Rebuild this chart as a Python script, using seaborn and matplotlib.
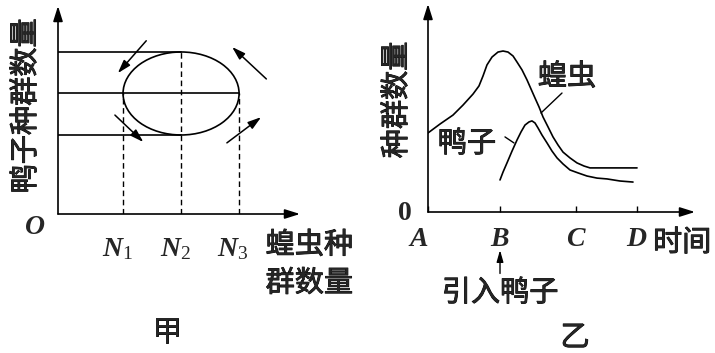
import matplotlib
matplotlib.use("Agg")
import matplotlib.pyplot as plt
import matplotlib.patheffects as pe
import numpy as np
import pandas as pd
import seaborn as sns
from matplotlib.patches import Ellipse
from matplotlib.transforms import ScaledTranslation

# ---------------- panel 甲 data ----------------
locust_levels = [1.0, 2.0, 3.0]                 # N1, N2, N3
locust_tick_labels = ["$N_1$", "$N_2$", "$N_3$"]
duck_levels = [2.0, 3.0, 4.0]                   # duck population: low, mid, high
cycle_arrows = [                                # (x_from, y_from, x_to, y_to)
    (1.40, 4.27, 0.91, 3.49),
    (0.86, 2.48, 1.35, 1.83),
    (2.79, 1.81, 3.38, 2.43),
    (3.47, 3.35, 2.88, 4.12),
]

# ---------------- panel 乙 data ----------------
time_ticks = [0.0, 1.0, 2.06, 2.9]
time_labels = ["$A$", "$B$", "$C$", "$D$"]
locust_t = [0.00, 0.167, 0.347, 0.486, 0.625, 0.708, 0.764, 0.819, 0.889, 0.972,
            1.042, 1.111, 1.181, 1.236, 1.306, 1.375, 1.431, 1.486, 1.542, 1.597,
            1.667, 1.736, 1.806, 1.875, 1.972, 2.069, 2.167, 2.25, 2.486, 2.903]
locust_n = [3.80, 4.23, 4.66, 5.14, 5.67, 6.06, 6.54, 7.07, 7.45, 7.69,
            7.74, 7.69, 7.50, 7.21, 6.83, 6.35, 5.91, 5.48, 5.05, 4.57,
            4.09, 3.61, 3.22, 2.88, 2.60, 2.36, 2.21, 2.12, 2.12, 2.12]
duck_t = [1.0, 1.042, 1.097, 1.167, 1.236, 1.292, 1.347, 1.403, 1.444, 1.486,
          1.528, 1.583, 1.653, 1.722, 1.792, 1.875, 1.972, 2.083, 2.208, 2.347,
          2.486, 2.667, 2.847]
duck_n = [1.54, 1.92, 2.36, 2.93, 3.46, 3.85, 4.18, 4.33, 4.38, 4.28,
          4.04, 3.70, 3.32, 2.93, 2.60, 2.31, 2.02, 1.88, 1.73, 1.63,
          1.59, 1.49, 1.44]

sns.set_style("white")
plt.rcParams['font.family'] = ['Noto Sans CJK SC', 'DejaVu Sans']
plt.rcParams['mathtext.fontset'] = 'custom'
plt.rcParams['mathtext.it'] = 'Liberation Serif:italic:bold'
plt.rcParams['mathtext.rm'] = 'Liberation Serif'
plt.rcParams['mathtext.bf'] = 'Liberation Serif:bold'

LW = 1.2
CJK = 21
LAT = 20
THICK = [pe.withStroke(linewidth=0.6, foreground='black')]

fig = plt.figure(figsize=(7.15, 3.53), dpi=100)
W, H = 715, 353

def rect(l, t, r, b):
    return [l / W, 1 - b / H, (r - l) / W, (b - t) / H]

def cjk(obj, *args, **kw):
    return obj.text(*args, fontsize=CJK, path_effects=THICK, **kw)

def axis_arrows(ax):
    for s in ax.spines.values():
        s.set_visible(False)
    style = dict(arrowstyle='-|>,head_length=0.7,head_width=0.22', lw=LW,
                 color='black', mutation_scale=13, shrinkA=0, shrinkB=0)
    ax.annotate("", xy=(1, 0), xytext=(0, 0), xycoords='axes fraction',
                textcoords='axes fraction', arrowprops=style)
    ax.annotate("", xy=(0, 1), xytext=(0, 0), xycoords='axes fraction',
                textcoords='axes fraction', arrowprops=style)

# ================= panel 甲 =================
ax1 = fig.add_axes(rect(58, 6, 300, 214))
ax1.set_facecolor('none')
x0, x1 = -0.121, 4.05
y0, y1 = 0.096, 5.108
ax1.set_xlim(x0, x1)
ax1.set_ylim(y0, y1)
axis_arrows(ax1)

N1, N2, N3 = locust_levels
P1, P2, P3 = duck_levels
# horizontal guide lines
for yv, xe in [(P3, N2), (P2, N3), (P1, N2)]:
    df = pd.DataFrame({"x": [x0, xe], "y": [yv, yv]})
    sns.lineplot(data=df, x="x", y="y", ax=ax1, color='black', lw=LW,
                 sort=False, estimator=None)
# dashed verticals
for xv, ye in [(N1, P2), (N2, P3), (N3, P2)]:
    ax1.vlines(xv, y0, ye, colors='black', lw=1.0, linestyles=(0, (4, 2.6)))
ax1.add_patch(Ellipse((N2, P2), N3 - N1, P3 - P1, fill=False, ec='black', lw=LW))
for xa, ya, xb, yb in cycle_arrows:
    ax1.annotate("", xy=(xb, yb), xytext=(xa, ya),
                 arrowprops=dict(arrowstyle='-|>,head_length=0.8,head_width=0.25',
                                 lw=1.1, color='black', mutation_scale=10,
                                 shrinkA=0, shrinkB=0))
ax1.set_xticks(locust_levels, labels=locust_tick_labels)
ax1.tick_params(axis='x', length=0, pad=14, labelsize=LAT)
ax1.set_yticks([])
for lab in ax1.get_xticklabels():
    lab.set_transform(lab.get_transform() + ScaledTranslation(-6 / 100, 0, fig.dpi_scale_trans))
ax1.set_xlabel("")
ax1.set_ylabel("")
ax1.text(-0.517, -0.22, "O", fontsize=LAT, family='Liberation Serif', style='italic',
         weight='bold', ha='center', va='center', clip_on=False)
cjk(ax1, 4.21, -0.66, "蝗虫种", ha='center', va='center', clip_on=False)
cjk(ax1, 4.21, -1.58, "群数量", ha='center', va='center', clip_on=False)

cjk(fig, 26 / W, 1 - 106 / H, "鸭子种群数量", rotation=90, ha='center', va='center')
cjk(fig, 167 / W, 1 - 333 / H, "甲", ha='center', va='center')

# ================= panel 乙 =================
ax2 = fig.add_axes(rect(428, 4, 695, 212))
ax2.set_facecolor('none')
ax2.set_xlim(0, 3.708)
ax2.set_ylim(0, 10)
axis_arrows(ax2)

df_l = pd.DataFrame({"t": locust_t, "n": locust_n})
df_d = pd.DataFrame({"t": duck_t, "n": duck_n})
sns.lineplot(data=df_l, x="t", y="n", ax=ax2, color='black', lw=LW, sort=False, estimator=None)
sns.lineplot(data=df_d, x="t", y="n", ax=ax2, color='black', lw=LW, sort=False, estimator=None)
ax2.set_xticks(time_ticks, labels=time_labels)
ax2.tick_params(axis='x', direction='in', length=4.5, width=1.0, pad=8,
                labelsize=LAT, bottom=True, color='black')
lab_a = ax2.get_xticklabels()[0]
lab_a.set_transform(lab_a.get_transform() + ScaledTranslation(-10 / 100, 0, fig.dpi_scale_trans))
ax2.set_yticks([])
ax2.set_xlabel("")
ax2.set_ylabel("")

ax2.text(-0.32, -0.05, "0", fontsize=LAT, family='Liberation Serif', weight='bold',
         ha='center', va='center', clip_on=False)
cjk(ax2, 3.125, -1.49, "时间", ha='left', va='center', clip_on=False)
cjk(ax2, 1.93, 6.49, "蝗虫", ha='center', va='center')
ax2.plot([1.861, 1.569], [5.72, 4.76], color='black', lw=1.0)
cjk(ax2, 0.54, 3.27, "鸭子", ha='center', va='center')
ax2.plot([1.069, 1.194], [3.61, 3.32], color='black', lw=1.0)
ax2.annotate("引入鸭子", xy=(time_ticks[1], -1.83), xytext=(time_ticks[1], -3.9),
             fontsize=CJK, path_effects=THICK, ha='center', va='center',
             annotation_clip=False,
             arrowprops=dict(arrowstyle='-|>,head_length=0.7,head_width=0.2', lw=1.0,
                             color='black', mutation_scale=10, shrinkA=1, shrinkB=0))

cjk(fig, 397 / W, 1 - 100 / H, "种群数量", rotation=90, ha='center', va='center')
cjk(fig, 575 / W, 1 - 338 / H, "乙", ha='center', va='center')

fig.savefig("out.png", dpi=100, facecolor='white')
